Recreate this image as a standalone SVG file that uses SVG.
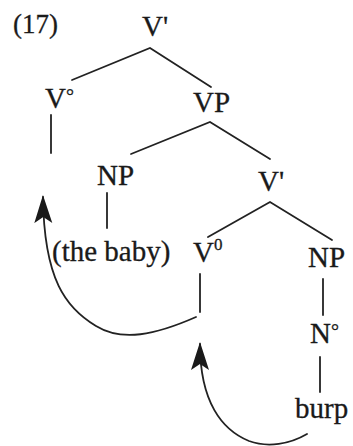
<svg xmlns="http://www.w3.org/2000/svg" width="353" height="446" viewBox="0 0 353 446">
<style>
text{font-family:"Liberation Serif","Times New Roman",serif;font-size:29px;fill:#1a1a1a;stroke:#1a1a1a;stroke-width:0.3}
.e{stroke:#222;stroke-width:1.8;fill:none;stroke-linecap:round}
.sup{font-size:17px}
.deg{font-size:20px}
</style>
<defs>
<marker id="ah" viewBox="0 0 28 20" refX="26" refY="10" markerWidth="28" markerHeight="20" markerUnits="userSpaceOnUse" orient="auto">
<path d="M0,1 L28,10 L0,19 L6,10 Z" fill="#1a1a1a"/>
</marker>
</defs>
<rect width="353" height="446" fill="#fff"/>
<text id="label17" x="13" y="33" style="font-size:27px">(17)</text>
<g id="n-vbar-top"><text x="142" y="36">V'</text></g>
<g id="n-v0-left"><text x="45" y="108">V<tspan class="deg" dy="-5">°</tspan></text></g>
<g id="n-vp"><text x="193" y="112">VP</text></g>
<g id="n-np-left"><text x="97" y="185">NP</text></g>
<g id="n-vbar-mid"><text x="258" y="191">V'</text></g>
<g id="n-thebaby"><text x="52" y="261">(the baby)</text></g>
<g id="n-v0-mid"><text x="193" y="262">V<tspan class="sup" dy="-12">0</tspan></text></g>
<g id="n-np-right"><text x="308" y="267">NP</text></g>
<g id="n-n0"><text x="310" y="343">N<tspan class="deg" dy="-5">°</tspan></text></g>
<g id="n-burp"><text x="295" y="418">burp</text></g>
<g id="connectors">
<path class="e" d="M72,80 L150,48 L211,87"/>
<path class="e" d="M51,115 L51,153"/>
<path class="e" d="M131,154 L210,122 L270,159"/>
<path class="e" d="M107,193 L107,228"/>
<path class="e" d="M208,237 L270,202 L332,240"/>
<path class="e" d="M200,274 L200,312"/>
<path class="e" d="M323,279 L323,315"/>
<path class="e" d="M320,357 L320,392"/>
<path class="e" d="M196,317 C155,335 122,342 96,326 C66,308 44,280 43,197" marker-end="url(#ah)"/>
<path class="e" d="M307,434 C290,444 268,448 249,441 C222,430 200,402 200,344" marker-end="url(#ah)"/>
</g>
</svg>
